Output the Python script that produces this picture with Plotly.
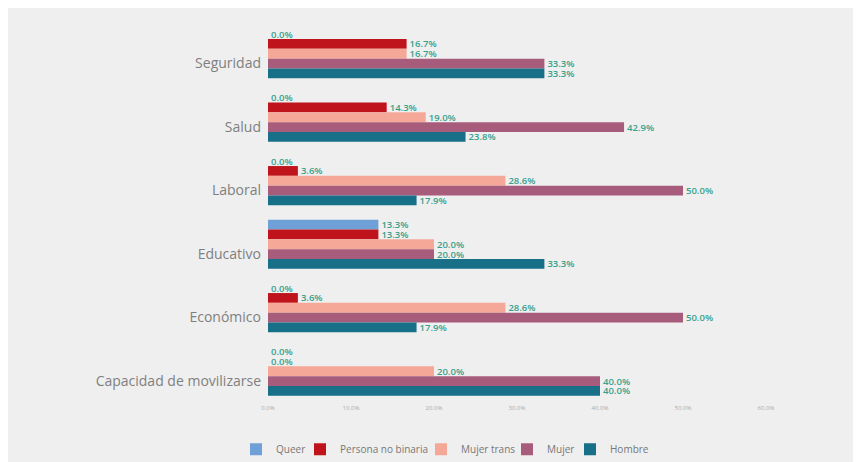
import plotly.graph_objects as go

categories = ["Seguridad", "Salud", "Laboral", "Educativo", "Económico", "Capacidad de movilizarse"]
series_names = ["Queer", "Persona no binaria", "Mujer trans", "Mujer", "Hombre"]
queer = [0.0, 0.0, 0.0, 13.3, 0.0, 0.0]
no_binaria = [16.7, 14.3, 3.6, 13.3, 3.6, 0.0]
mujer_trans = [16.7, 19.0, 28.6, 20.0, 28.6, 20.0]
mujer = [33.3, 42.9, 50.0, 20.0, 50.0, 40.0]
hombre = [33.3, 23.8, 17.9, 33.3, 17.9, 40.0]
x_ticks = [0, 10, 20, 30, 40, 50, 60]
x_tick_labels = ["0.0%", "10.0%", "20.0%", "30.0%", "40.0%", "50.0%", "60.0%"]

colors = ["#6fa0d8", "#c0141c", "#f5a898", "#a85c7c", "#176f88"]
values = [queer, no_binaria, mujer_trans, mujer, hombre]
legend_left_px = [228, 292, 413, 499, 562]

W, H = 861, 462
ML, MR, MT, MB = 260, 103, 14, 67

idx = list(range(len(categories)))

fig = go.Figure()
legend_layout = {}
for k, (name, vals, col) in enumerate(zip(series_names, values, colors)):
    lname = "legend" if k == 0 else f"legend{k + 1}"
    fig.add_trace(go.Bar(
        y=idx, x=vals, name=name, orientation="h",
        marker=dict(color=col, line=dict(width=0)),
        text=[f"{v:.1f}%" for v in vals],
        textposition="outside",
        textfont=dict(family="Open Sans", size=9.5, color="#36a08c", weight=600),
        constraintext="none",
        cliponaxis=False,
        legend=lname,
    ))
    legend_layout[lname] = dict(
        orientation="h", xref="container", yref="container",
        x=legend_left_px[k] / W, y=0.045, xanchor="left", yanchor="middle",
        font=dict(size=10, color="#777777"), itemwidth=30,
        bgcolor="rgba(0,0,0,0)", borderwidth=0,
    )

fig.update_layout(
    width=W, height=H,
    margin=dict(l=ML, r=MR, t=MT, b=MB),
    paper_bgcolor="#efefef",
    plot_bgcolor="rgba(0,0,0,0)",
    barmode="group",
    bargap=0.228,
    bargroupgap=0,
    font=dict(family="Open Sans", color="#777777"),
    xaxis=dict(
        range=[0, 60], tickvals=x_ticks, ticktext=x_tick_labels,
        tickfont=dict(size=6, color="#aaaaaa"), showgrid=False, zeroline=False,
        showline=False, ticks="",
    ),
    yaxis=dict(
        range=[5.5, -0.5], tickvals=[i + 0.155 for i in idx], ticktext=categories,
        tickfont=dict(size=14, color="#7f7f7f"), showgrid=False, zeroline=False,
        ticks="", ticklabelstandoff=6,
    ),
    showlegend=True,
    **legend_layout,
)

fig.write_html("out.html")
